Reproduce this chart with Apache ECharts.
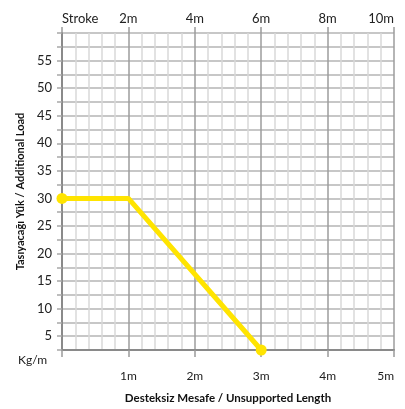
<!DOCTYPE html>
<html>
<head>
<meta charset="utf-8">
<script src="https://cdn.jsdelivr.net/npm/echarts@6/dist/echarts.min.js"></script>
<style>
	html, body { margin: 0; padding: 0; background: #fff; }
	#chart { width: 405px; height: 409px; }
</style>
</head>
<body>
<div id="chart"></div>
<script>
	// load curve: unsupported length (m) -> additional load (kg/m)
	var lengths = [0, 1, 3];
	var loads = [30, 30, 2.5];
	var markedPoints = [true, false, true];

	var bottomLabels = ['', '1m', '2m', '3m', '4m', '5m'];
	var topLabels = ['Stroke', '2m', '4m', '6m', '8m', '10m'];
	var loadTicks = [5, 10, 15, 20, 25, 30, 35, 40, 45, 50, 55];

	var nameFont = 'Lato, "Liberation Sans", sans-serif';
	var labelFont = 'Lato, "Liberation Sans", Arial, sans-serif';

	var seriesData = [];
	for(var i = 0; i < lengths.length; i++) {
		seriesData.push({
			value: [lengths[i], loads[i]],
			symbol: markedPoints[i] ? 'circle' : 'none'
		});
	}

	var chart = echarts.init(document.getElementById('chart'));
	chart.setOption({
		animation: false,
		grid: {
			left: 62,
			right: 11,
			top: 33,
			bottom: 56
		},
		xAxis: [{
			type: 'value',
			position: 'bottom',
			min: 0,
			max: 5,
			interval: 1,
			name: 'Desteksiz Mesafe / Unsupported Length',
			nameLocation: 'middle',
			nameGap: 42,
			nameTextStyle: {
				fontFamily: nameFont,
				fontWeight: 'bold',
				fontSize: 11.5,
				color: '#111'
			},
			axisLine: {
				show: true,
				lineStyle: { color: '#8a8a8a', width: 2 }
			},
			axisTick: {
				show: true,
				length: 7,
				lineStyle: { color: '#9a9a9a', width: 1.5 }
			},
			axisLabel: {
				margin: 20,
				fontFamily: labelFont,
				fontSize: 12,
				color: '#222',
				alignMaxLabel: 'right',
				formatter: function(v) {
					return bottomLabels[Math.round(v)] || '';
				}
			},
			splitLine: {
				show: true,
				lineStyle: { color: '#9c9c9c', width: 1.5 }
			},
			minorTick: { show: false, splitNumber: 5 },
			minorSplitLine: {
				show: true,
				lineStyle: { color: '#d9d9d9', width: 1.5 }
			}
		}, {
			type: 'value',
			position: 'top',
			min: 0,
			max: 10,
			interval: 2,
			axisLine: { show: false },
			axisTick: {
				show: true,
				length: 6,
				lineStyle: { color: '#9a9a9a', width: 1.5 }
			},
			axisLabel: {
				margin: 8,
				fontFamily: labelFont,
				fontSize: 13,
				color: '#222',
				alignMinLabel: 'left',
				alignMaxLabel: 'right',
				formatter: function(v) {
					return topLabels[Math.round(v / 2)] || '';
				}
			},
			splitLine: { show: false }
		}],
		yAxis: {
			type: 'value',
			min: 2.5,
			max: 60,
			interval: 2.5,
			name: 'Tasıyacağı Yük / Additional Load',
			nameLocation: 'middle',
			nameGap: 35,
			nameTextStyle: {
				fontFamily: nameFont,
				fontWeight: 'bold',
				fontSize: 11,
				color: '#111'
			},
			axisLine: {
				show: true,
				lineStyle: { color: '#8a8a8a', width: 2 }
			},
			axisTick: {
				show: true,
				length: 5,
				lineStyle: { color: '#a8a8a8', width: 1.5 }
			},
			axisLabel: {
				margin: 10,
				fontFamily: labelFont,
				fontSize: 13,
				color: '#222',
				formatter: function(v) {
					return loadTicks.indexOf(v) >= 0 ? String(v) : '';
				}
			},
			splitLine: {
				show: true,
				lineStyle: { color: '#b4b4b4', width: 1.5 }
			}
		},
		graphic: [{
			type: 'text',
			left: 18,
			top: 354,
			style: {
				text: 'Kg/m',
				font: '12px ' + labelFont,
				fill: '#222'
			}
		}],
		series: [{
			type: 'line',
			xAxisIndex: 0,
			data: seriesData,
			symbolSize: 11,
			lineStyle: { color: '#FFE400', width: 5 },
			itemStyle: { color: '#FFE400' },
			z: 5
		}]
	});
</script>
</body>
</html>
